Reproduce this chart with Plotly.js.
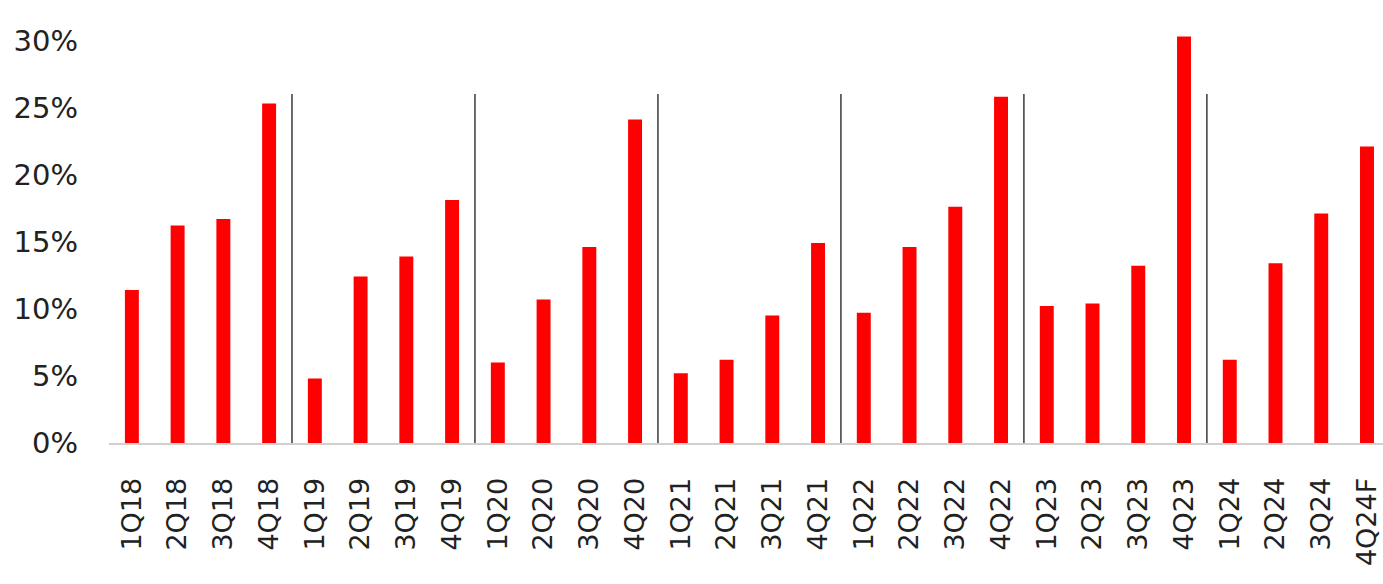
<!DOCTYPE html>
<html>
<head>
<meta charset="utf-8">
<script src="https://cdn.plot.ly/plotly-3.0.1.min.js"></script>
<style>html,body{margin:0;padding:0;background:#fff;}#chart{width:1383px;height:584px;}</style>
</head>
<body>
<div id="chart"></div>
<script>
const categories = ["1Q18","2Q18","3Q18","4Q18","1Q19","2Q19","3Q19","4Q19","1Q20","2Q20","3Q20","4Q20","1Q21","2Q21","3Q21","4Q21","1Q22","2Q22","3Q22","4Q22","1Q23","2Q23","3Q23","4Q23","1Q24","2Q24","3Q24","4Q24F"];
const values = [11.4,16.2,16.7,25.3,4.8,12.4,13.9,18.1,6.0,10.7,14.6,24.1,5.2,6.2,9.5,14.9,9.7,14.6,17.6,25.8,10.2,10.4,13.2,30.3,6.2,13.4,17.1,22.1];
const yTickVals = [0,5,10,15,20,25,30];
const yTickText = ["0%","5%","10%","15%","20%","25%","30%"];
const separatorHeight = 26;

// year boundaries from category labels
const shapes = [];
for (let i = 1; i < categories.length; i++) {
  if (categories[i].slice(2,4) !== categories[i-1].slice(2,4)) {
    shapes.push({type:'line', xref:'x', yref:'y', x0:i-0.5, x1:i-0.5, y0:0, y1:separatorHeight,
      line:{color:'#3a3a3a', width:1.5}, layer:'above'});
  }
}

const trace = {
  type:'bar', x: categories.map((c,i)=>i), y: values,
  marker:{color:'#ff0000'}, hoverinfo:'skip'
};

const layout = {
  width:1383, height:584,
  margin:{l:109, r:0, t:27, b:141},
  paper_bgcolor:'#fff', plot_bgcolor:'#fff',
  showlegend:false, bargap:0.695,
  xaxis:{
    type:'linear', range:[-0.5, 27.35],
    tickvals: categories.map((c,i)=>i), ticktext: categories,
    tickangle:-90, showgrid:false, zeroline:false,
    showline:true, linecolor:'#d0d0d0', linewidth:2,
    ticks:'', ticklabelstandoff:22, ticklabeloverflow:'allow',
    tickfont:{family:'DejaVu Sans, sans-serif', size:27, color:'#222'}
  },
  yaxis:{
    range:[0,31], tickvals:yTickVals, ticktext:yTickText,
    showgrid:false, zeroline:false, showline:false, ticks:'',
    ticklabelstandoff:30,
    tickfont:{family:'DejaVu Sans, sans-serif', size:29, color:'#222'}
  },
  shapes: shapes
};

Plotly.newPlot('chart', [trace], layout, {displayModeBar:false, staticPlot:true});
</script>
</body>
</html>
